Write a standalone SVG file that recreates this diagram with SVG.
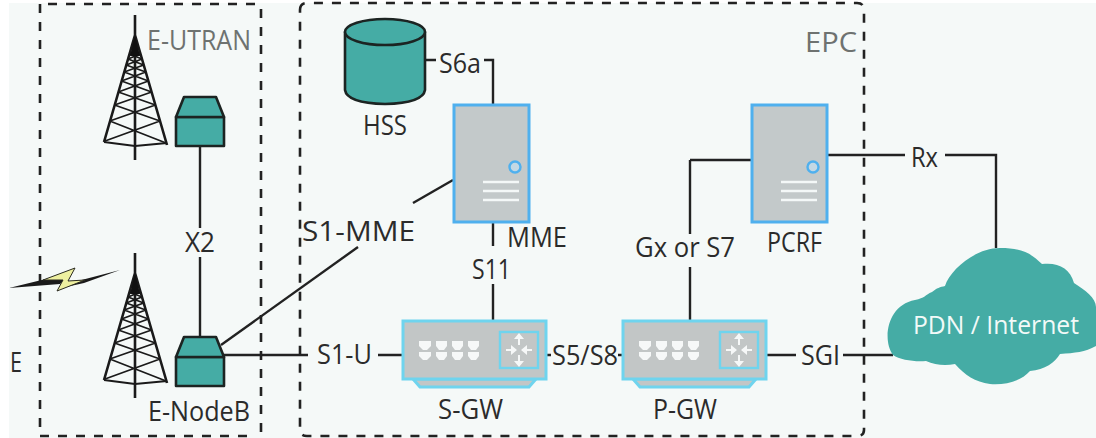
<svg xmlns="http://www.w3.org/2000/svg" width="1096" height="438" viewBox="0 0 1096 438">
<style>
text{font-family:"Open Sans","Noto Sans","Liberation Sans",sans-serif;font-size:28px;fill:#2b2b2b}
.g{fill:#6e7270}
text.w{fill:#f2faf8;font-size:26px}
.dash{fill:none;stroke:#222;stroke-width:2.6;stroke-dasharray:9 9}
.c{fill:none;stroke:#222;stroke-width:2.4}
.teal{fill:#45aca5;stroke:#1c2422;stroke-width:2.6;stroke-linejoin:round}
.lat{fill:none;stroke:#1a1a1a;stroke-width:1.8}
.srv{fill:#c3c9ca;stroke:#4fb0ee;stroke-width:3}
.sw{fill:#c2c6c6;stroke:#6fd4ee;stroke-width:3}
.bar{stroke:#f4f8f8;stroke-width:2.4}
.port{fill:#f6f8f8}
.ar{stroke:#f6f8f8;stroke-width:2;fill:none}
</style>
<defs>
<g id="tower">
<path class="lat" style="stroke-width:2.6" d="M31 0V145M31 20L0 127M31 20L63 130"/>
<path class="lat" d="M0 127L31 131L63 128"/>
<path class="lat" d="M1 126L56 106M62 128L5.800 106M5.800 106L51.400 90M56 106L10.500 90M10.500 90L47.600 77M51.400 90L14.300 77M14.300 77L44.400 66M47.600 77L17.500 66M17.500 66L41.800 57M44.400 66L20.200 57M20.200 57L39.700 50M41.800 57L22.200 50M22.200 50L38 44M39.700 50L24 44M24 44L36.500 39M38 44L25.400 39"/>
<path d="M31 20L26 41H36Z" fill="#111"/>
</g>
<g id="station">
<rect x="0" y="20" width="48" height="29" class="teal"/>
<path d="M8 0H40L48 20H0Z" class="teal"/>
</g>
<g id="server">
<rect x="0" y="0" width="75" height="117" class="srv"/>
<circle cx="61" cy="62" r="5.500" fill="#c3d8e4" stroke="#4fb0ee" stroke-width="2.400"/>
<path class="bar" d="M29 77H65M29 86H65M29 95H65"/>
</g>
<g id="switch">
<path d="M10 58L17 66H126L133 58Z" fill="#c2c6c6" stroke="#6fd4ee" stroke-width="3"/>
<rect x="0" y="0" width="143" height="58" class="sw"/>
<rect x="97" y="11" width="38" height="36" fill="none" stroke="#6fd4ee" stroke-width="2.400"/>
<g class="port">
<path d="M16 20H28V25L24 29H20L16 25ZM33 20H44V25L41 29H36L33 25ZM49 20H60V25L57 29H52L49 25ZM65 20H76V25L73 29H68L65 25Z"/>
<path d="M16 31H28V35L24 39H20L16 35ZM33 31H44V35L41 39H36L33 35ZM49 31H60V35L57 39H52L49 35ZM65 31H76V35L73 39H68L65 35Z"/>
</g>
<path class="ar" d="M116 16V24M103 29H111M129 29H121M116 34V42"/>
<path class="port" d="M116 12L121 18H111ZM116 46L121 40H111ZM114 29L108 24V34ZM118 29L124 24V34Z"/>
</g>
</defs>
<rect x="9" y="3" width="1087" height="435" fill="#f5f9f8"/>
<g id="connectors">
<path class="c" d="M200 146V228M200 257V337"/>
<path class="c" d="M221 345L358 247"/>
<path class="c" d="M413 203L453 180"/>
<path class="c" d="M224 355H308M378 355H403"/>
<path class="c" d="M425 60H436M484 60H493V105"/>
<path class="c" d="M493 222V246M493 284V321"/>
<path class="c" d="M546 355H551M618 355H623"/>
<path class="c" d="M690 160H752M690 160V234M690 267V321"/>
<path class="c" d="M827 155H905M945 155H996V248"/>
<path class="c" d="M765 355H796M843 355H893"/>
</g>
<path class="dash" d="M40 4V432M40 436H255M261 432V8M255 4H46"/>
<path class="dash" d="M300 10Q300 3 307 3H857Q864 3 864 10V430Q864 436 857 436H307Q300 436 300 430Z"/>
<g id="lightning">
<path d="M9 288L58 276L70 276L60 284ZM70 283L120 270L84 283L66 287Z" fill="#1a1a1a"/>
<path d="M43 280L75 268L68 281L85 280L57 291L63 280Z" fill="#eef0a0" stroke="#2b2b20" stroke-width="1"/>
</g>
<g id="enb-top"><use href="#tower" x="104" y="15"/><use href="#station" x="176" y="97"/></g>
<g id="enb-bottom"><use href="#tower" x="104" y="253"/><use href="#station" x="176" y="337"/></g>
<g id="hss">
<path d="M345 32V90Q347 103 385 104Q423 103 425 90V32Z" class="teal"/>
<ellipse cx="385" cy="32" rx="40" ry="13" class="teal"/>
<text x="363" y="135" textLength="44" lengthAdjust="spacingAndGlyphs">HSS</text>
</g>
<g id="mme"><use href="#server" x="454" y="105"/><text x="507" y="247" textLength="60" lengthAdjust="spacingAndGlyphs">MME</text></g>
<g id="pcrf"><use href="#server" x="752" y="105"/><text x="767" y="252" textLength="55" lengthAdjust="spacingAndGlyphs">PCRF</text></g>
<g id="sgw"><use href="#switch" x="403" y="321"/><text x="438" y="419" textLength="65" lengthAdjust="spacingAndGlyphs">S-GW</text></g>
<g id="pgw"><use href="#switch" x="623" y="321"/><text x="653" y="419" textLength="64" lengthAdjust="spacingAndGlyphs">P-GW</text></g>
<g id="cloud">
<path d="M893 355C882 340 887 305 915 300C925 298 925 295 932 292C937 288 940 287 945 286C950 270 975 248 1000 248C1025 248 1032 255 1042 264C1058 262 1070 268 1074 283C1085 290 1096 298 1096 307V346C1085 352 1075 353 1060 354C1055 362 1045 370 1030 371C1020 382 1005 385 990 384C975 382 965 375 955 364C945 366 935 365 926 361C915 362 900 360 893 355Z" fill="#45aca5"/>
<text x="913" y="334" class="w" textLength="166" lengthAdjust="spacingAndGlyphs">PDN / Internet</text>
</g>
<g id="labels">
<text x="147" y="50" class="g" textLength="104" lengthAdjust="spacingAndGlyphs">E-UTRAN</text>
<text x="805" y="52" class="g" textLength="52" lengthAdjust="spacingAndGlyphs">EPC</text>
<text x="185" y="252" textLength="30" lengthAdjust="spacingAndGlyphs">X2</text>
<text x="10" y="372" textLength="12" lengthAdjust="spacingAndGlyphs">E</text>
<text x="148" y="421" textLength="102" lengthAdjust="spacingAndGlyphs">E-NodeB</text>
<text x="439" y="73" textLength="42" lengthAdjust="spacingAndGlyphs">S6a</text>
<text x="302" y="241" textLength="113" lengthAdjust="spacingAndGlyphs">S1-MME</text>
<text x="472" y="279" textLength="39" lengthAdjust="spacingAndGlyphs">S11</text>
<text x="317" y="364" textLength="55" lengthAdjust="spacingAndGlyphs">S1-U</text>
<text x="552" y="365" textLength="66" lengthAdjust="spacingAndGlyphs">S5/S8</text>
<text x="635" y="257" textLength="100" lengthAdjust="spacingAndGlyphs">Gx or S7</text>
<text x="911" y="167" textLength="27" lengthAdjust="spacingAndGlyphs">Rx</text>
<text x="801" y="365" textLength="39" lengthAdjust="spacingAndGlyphs">SGI</text>
</g>
</svg>
